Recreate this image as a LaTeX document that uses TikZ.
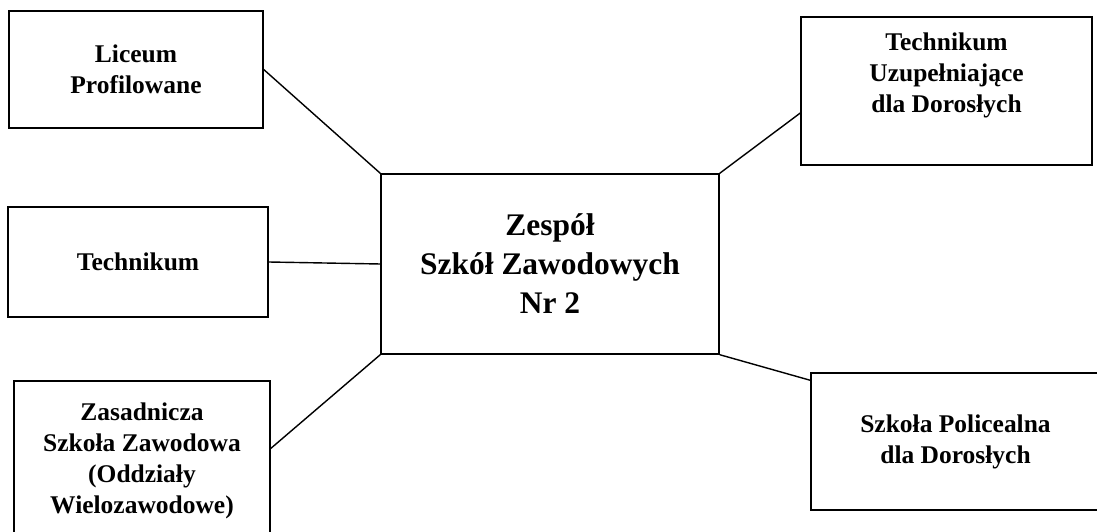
\documentclass[tikz,border=0pt]{standalone}
\usepackage{fontspec}
\setmainfont{Liberation Serif}
\usepackage{tikz}

\begin{document}
\begin{tikzpicture}[
  szkola/.style={draw, line width=0.8pt, align=center, inner sep=0pt,
    font=\fontsize{14.5}{17.6}\selectfont\bfseries},
  glowna/.style={szkola, font=\fontsize{17.9}{22.2}\selectfont\bfseries},
  napis/.style={align=center, font=\fontsize{14.5}{17.6}\selectfont\bfseries},
  lacznik/.style={line width=0.8pt}]

\useasboundingbox (0,0) rectangle (21.94,10.62);

% szkola glowna
\node[glowna, minimum width=6.76cm, minimum height=3.6cm] (zsz) at (11.0,5.34)
  {Zespół\\Szkół Zawodowych\\Nr 2};

% lewa strona
\node[szkola, minimum width=5.08cm, minimum height=2.34cm] (lp) at (2.72,9.23)
  {Liceum\\Profilowane};
\node[szkola, minimum width=5.2cm, minimum height=2.2cm] (tech) at (2.76,5.38)
  {Technikum};
\node[szkola, minimum width=5.12cm, minimum height=3.18cm] (zas) at (2.84,1.41)
  {Zasadnicza\\Szkoła Zawodowa\\(Oddziały\\Wielozawodowe)};

% prawa strona
\node[draw, line width=0.8pt, minimum width=5.82cm, minimum height=2.96cm] (tu) at (18.93,8.80) {};
\node[napis] (tutxt) at (18.93,9.12) {Technikum\\Uzupełniające\\dla Dorosłych};
\node[szkola, minimum width=5.78cm, minimum height=2.74cm] (sp) at (19.11,1.79)
  {Szkoła Policealna\\dla Dorosłych};

\draw[lacznik] (lp.east) -- (zsz.north west);
\draw[lacznik] (tech.east) -- (zsz.west);
\draw[lacznik] ([yshift=0.24cm]zas.east) -- (zsz.south west);
\draw[lacznik] ([yshift=-0.44cm]tu.west) -- (zsz.north east);
\draw[lacznik] ([yshift=-0.16cm]sp.north west) -- (zsz.south east);
\end{tikzpicture}
\end{document}
